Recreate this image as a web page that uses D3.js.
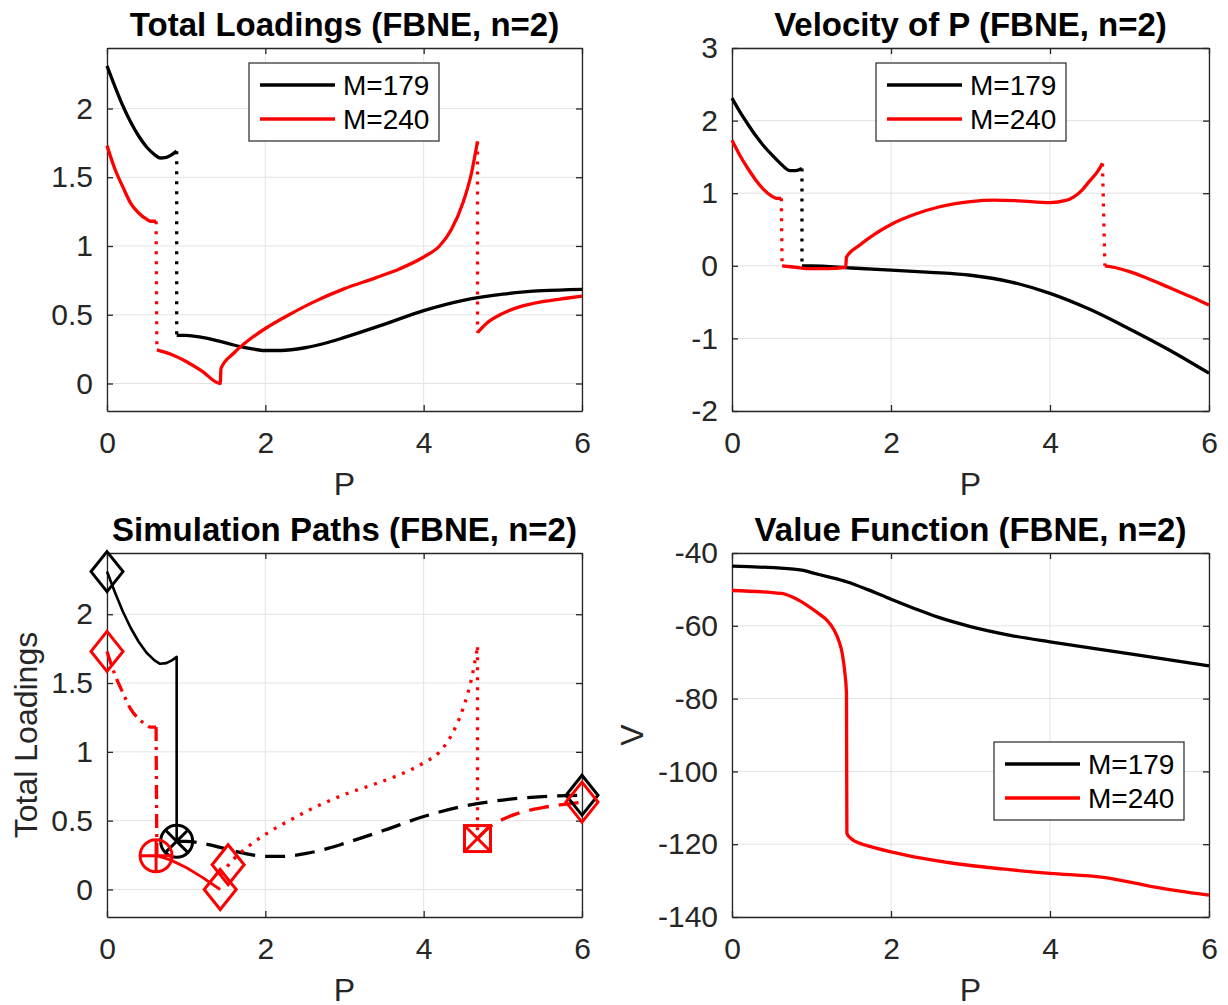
<!DOCTYPE html>
<html>
<head>
<meta charset="utf-8">
<script src="https://cdn.jsdelivr.net/npm/d3@7"></script>
<style>
  body { margin: 0; background: #fff; }
  svg text { font-family: "Liberation Sans", Arial, Helvetica, sans-serif; fill: #262626; }
  .grid line { stroke: #e3e3e3; stroke-width: 1; }
  .axis path, .axis line { stroke: #262626; stroke-width: 1.3; }
  .axis text { font-size: 30px; fill: #262626; }
</style>
</head>
<body>
<svg id="chart" width="1228" height="1005"></svg>
<script>
// ---- data ----
var xTicks = [0, 2, 4, 6];
var loadTicks = [0, 0.5, 1, 1.5, 2];
var velTicks = [-2, -1, 0, 1, 2, 3];
var valTicks = [-140, -120, -100, -80, -60, -40];
var seriesNames = ['M=179', 'M=240'];

// total loadings, M=179
var pBlackA = [0, 0.1, 0.2, 0.3, 0.4, 0.5, 0.6, 0.67, 0.75, 0.82, 0.88];
var loadBlackA = [2.31, 2.16, 2.02, 1.90, 1.80, 1.72, 1.665, 1.64, 1.645, 1.665, 1.69];
var pBlackB = [0.88, 1.0, 1.2, 1.4, 1.6, 1.8, 2.0, 2.2, 2.5, 2.8, 3.0, 3.5, 4.0, 4.5, 5.0, 5.5, 6.0];
var loadBlackB = [0.35, 0.35, 0.335, 0.31, 0.28, 0.255, 0.24, 0.24, 0.26, 0.30, 0.335, 0.43, 0.53, 0.605, 0.65, 0.675, 0.685];
// total loadings, M=240
var pRedA = [0, 0.1, 0.2, 0.3, 0.4, 0.5, 0.55, 0.62];
var loadRedA = [1.73, 1.56, 1.43, 1.31, 1.24, 1.195, 1.18, 1.18];
var pRedB = [0.63, 0.8, 1.0, 1.2, 1.43, 1.44, 1.6, 1.8, 2.0, 2.3, 2.6, 3.0, 3.4, 3.7, 4.0, 4.2, 4.35, 4.5, 4.6, 4.68];
var loadRedB = [0.245, 0.215, 0.16, 0.09, 0.0, 0.11, 0.22, 0.32, 0.40, 0.50, 0.59, 0.69, 0.77, 0.835, 0.92, 1.0, 1.12, 1.32, 1.52, 1.76];
var pRedC = [4.68, 4.8, 5.0, 5.2, 5.5, 5.8, 6.0];
var loadRedC = [0.37, 0.44, 0.51, 0.555, 0.595, 0.62, 0.635];

// velocity of P
var vpBlackA = [0, 0.1, 0.2, 0.3, 0.4, 0.5, 0.6, 0.73, 0.8, 0.88];
var velBlackA = [2.31, 2.12, 1.95, 1.79, 1.65, 1.53, 1.42, 1.31, 1.31, 1.34];
var vpBlackB = [0.88, 1.0, 1.5, 2.0, 2.5, 3.0, 3.5, 4.0, 4.5, 5.0, 5.5, 6.0];
var velBlackB = [0.0, 0.0, -0.03, -0.06, -0.09, -0.13, -0.22, -0.38, -0.60, -0.87, -1.16, -1.48];
var vpRedA = [0, 0.1, 0.2, 0.3, 0.4, 0.5, 0.56, 0.62];
var velRedA = [1.73, 1.52, 1.34, 1.18, 1.05, 0.96, 0.93, 0.93];
var vpRedB = [0.63, 0.8, 1.0, 1.2, 1.43, 1.44, 1.6, 1.8, 2.0, 2.3, 2.6, 3.0, 3.3, 3.6, 4.0, 4.2, 4.3, 4.4, 4.5, 4.6, 4.66];
var velRedB = [0.0, -0.02, -0.04, -0.04, -0.02, 0.12, 0.28, 0.44, 0.57, 0.71, 0.81, 0.885, 0.905, 0.895, 0.87, 0.90, 0.95, 1.04, 1.17, 1.30, 1.41];
var vpRedC = [4.69, 4.8, 5.0, 5.2, 5.5, 5.8, 6.0];
var velRedC = [0.0, -0.02, -0.08, -0.16, -0.30, -0.44, -0.54];

// value function
var valPBlack = [0, 0.88, 1.0, 1.2, 1.44, 1.7, 2.0, 2.3, 2.6, 3.0, 3.5, 4.0, 4.67, 5.3, 6.0];
var valBlack = [-43.6, -44.7, -45.4, -46.5, -47.9, -50.0, -52.7, -55.3, -57.7, -60.2, -62.6, -64.4, -66.6, -68.7, -71.0];
var valPRed = [0, 0.62, 0.8, 0.94, 1.1, 1.19, 1.28, 1.34, 1.39, 1.42, 1.44, 1.445, 1.5, 1.6, 1.8, 2.0, 2.4, 2.8, 3.4, 4.0, 4.67, 5.3, 6.0];
var valRed = [-50.3, -51.1, -52.5, -54.3, -56.8, -58.4, -61.0, -63.9, -68.0, -73.0, -78.5, -117, -118.5, -119.7, -121.0, -122.1, -123.9, -125.3, -126.8, -128.0, -129.1, -131.7, -134.0];

// simulation path markers
var simDiamondP = [0, 6, 0, 1.43, 1.53, 6];
var simDiamondL = [2.31, 0.685, 1.73, 0.0, 0.18, 0.635];
var simDiamondSeries = [0, 0, 1, 1, 1, 1];
var simSwitchP = [0.88, 0.62, 4.68];      // circle-x, circle-plus, square-x
var simSwitchL = [0.35, 0.245, 0.37];

var colors = ['#000000', '#ff0000'];
var LW = 3.3;

function zip(xs, ys) { return xs.map(function (v, i) { return [v, ys[i]]; }); }

var svg = d3.select('#chart');

function panel(o) {
    var w = o.right - o.left, h = o.bottom - o.top;
    var g = svg.append('g').attr('transform', 'translate(' + o.left + ',' + o.top + ')');
    var x = d3.scaleLinear().domain([0, 6]).range([0, w]);
    var y = d3.scaleLinear().domain(o.yDomain).range([h, 0]);

    var grid = g.append('g').attr('class', 'grid');
    grid.selectAll('line.gx').data(xTicks).enter().append('line').attr('class', 'gx')
        .attr('x1', x).attr('x2', x).attr('y1', 0).attr('y2', h);
    grid.selectAll('line.gy').data(o.yTicks).enter().append('line').attr('class', 'gy')
        .attr('y1', y).attr('y2', y).attr('x1', 0).attr('x2', w);

    g.append('g').attr('class', 'axis').attr('transform', 'translate(0,' + h + ')')
        .call(d3.axisBottom(x).tickValues(xTicks).tickSize(-6).tickSizeOuter(0).tickPadding(21).tickFormat(d3.format('d')));
    g.append('g').attr('class', 'axis')
        .call(d3.axisTop(x).tickValues(xTicks).tickSize(-6).tickSizeOuter(0).tickFormat(''));
    g.append('g').attr('class', 'axis')
        .call(d3.axisLeft(y).tickValues(o.yTicks).tickSize(-6).tickSizeOuter(0).tickPadding(14).tickFormat(function (d) { return String(d); }));
    g.append('g').attr('class', 'axis').attr('transform', 'translate(' + w + ',0)')
        .call(d3.axisRight(y).tickValues(o.yTicks).tickSize(-6).tickSizeOuter(0).tickFormat(''));
    g.selectAll('.axis text').attr('font-size', 30);

    g.append('text').attr('x', w / 2).attr('y', -12).attr('text-anchor', 'middle')
        .attr('font-size', 33).attr('font-weight', 'bold').style('fill', '#000').text(o.title);
    g.append('text').attr('x', w / 2).attr('y', h + 84).attr('text-anchor', 'middle')
        .attr('font-size', 32).text('P');
    if (o.ylabel) {
        g.append('text').attr('transform', 'translate(' + (o.ylabelX - o.left) + ',' + (h / 2) + ') rotate(-90)')
            .attr('text-anchor', 'middle').attr('font-size', 32).text(o.ylabel);
    }
    var line = d3.line().x(function (d) { return x(d[0]); }).y(function (d) { return y(d[1]); });
    var smooth = d3.line().curve(d3.curveMonotoneX).x(function (d) { return x(d[0]); }).y(function (d) { return y(d[1]); });
    return { g: g, x: x, y: y, w: w, h: h, line: line, smooth: smooth };
}

function path(p, pts, color, width, dash, curved) {
    p.g.append('path').datum(pts)
        .attr('d', curved === false ? p.line : p.smooth)
        .attr('fill', 'none').attr('stroke', color).attr('stroke-width', width)
        .attr('stroke-dasharray', dash || null).attr('stroke-linejoin', 'round');
}

function legend(p, bx, by) {
    var lg = p.g.append('g').attr('transform', 'translate(' + bx + ',' + by + ')');
    lg.append('rect').attr('width', 190).attr('height', 78).attr('fill', '#fff')
        .attr('stroke', '#262626').attr('stroke-width', 1.2);
    seriesNames.forEach(function (name, i) {
        var yy = 22 + i * 34;
        lg.append('line').attr('x1', 11).attr('x2', 86).attr('y1', yy).attr('y2', yy)
            .attr('stroke', colors[i]).attr('stroke-width', LW);
        lg.append('text').attr('x', 94).attr('y', yy).attr('dy', '0.36em')
            .attr('font-size', 28).style('fill', '#000').text(name);
    });
}

var DOT = '3,7', DASH = '20,10', DASHDOT = '14,6,3,6';

// ---- panel 1: total loadings ----
var p1 = panel({ left: 107, right: 582, top: 48, bottom: 411, yDomain: [-0.2, 2.44], yTicks: loadTicks,
    title: 'Total Loadings (FBNE, n=2)' });
(function () {
    var bA = zip(pBlackA, loadBlackA), bB = zip(pBlackB, loadBlackB);
    var rA = zip(pRedA, loadRedA), rB = zip(pRedB, loadRedB), rC = zip(pRedC, loadRedC);
    path(p1, [bA[bA.length - 1], bB[0]], colors[0], LW, DOT, false);
    path(p1, [rA[rA.length - 1], rB[0]], colors[1], LW, DOT, false);
    path(p1, [rB[rB.length - 1], rC[0]], colors[1], LW, DOT, false);
    path(p1, bA, colors[0], LW); path(p1, bB, colors[0], LW);
    path(p1, rA, colors[1], LW); path(p1, rB, colors[1], LW); path(p1, rC, colors[1], LW);
    legend(p1, 142, 15);
})();

// ---- panel 2: velocity of P ----
var p2 = panel({ left: 732, right: 1209, top: 48, bottom: 411, yDomain: [-2, 3], yTicks: velTicks,
    title: 'Velocity of P (FBNE, n=2)' });
(function () {
    var bA = zip(vpBlackA, velBlackA), bB = zip(vpBlackB, velBlackB);
    var rA = zip(vpRedA, velRedA), rB = zip(vpRedB, velRedB), rC = zip(vpRedC, velRedC);
    path(p2, [bA[bA.length - 1], bB[0]], colors[0], LW, DOT, false);
    path(p2, [rA[rA.length - 1], rB[0]], colors[1], LW, DOT, false);
    path(p2, [rB[rB.length - 1], rC[0]], colors[1], LW, DOT, false);
    path(p2, bA, colors[0], LW); path(p2, bB, colors[0], LW);
    path(p2, rA, colors[1], LW); path(p2, rB, colors[1], LW); path(p2, rC, colors[1], LW);
    legend(p2, 144, 15);
})();

// ---- panel 3: simulation paths ----
var p3 = panel({ left: 107, right: 582, top: 553, bottom: 917, yDomain: [-0.2, 2.445], yTicks: loadTicks,
    title: 'Simulation Paths (FBNE, n=2)', ylabel: 'Total Loadings', ylabelX: 37 });
(function () {
    var bA = zip(pBlackA, loadBlackA), bB = zip(pBlackB, loadBlackB);
    var rA = zip(pRedA, loadRedA), rB = zip(pRedB, loadRedB), rC = zip(pRedC, loadRedC);
    var cut = pRedB.indexOf(1.43);
    var rLow = rB.slice(0, cut + 1), rHigh = rB.slice(cut + 1);

    path(p3, bA.concat([bB[0]]), colors[0], 2.6, null, false);
    path(p3, bB, colors[0], LW, DASH);
    path(p3, rA, colors[1], LW, DASHDOT);
    path(p3, [rA[rA.length - 1], rB[0]], colors[1], LW, DASHDOT, false);
    path(p3, rLow, colors[1], LW - 0.5, null, false);
    path(p3, rHigh, colors[1], LW, DOT);
    path(p3, [rB[rB.length - 1], rC[0]], colors[1], LW, DOT, false);
    path(p3, rC, colors[1], LW, DASH);

    var mk = p3.g.append('g').attr('fill', 'none').attr('stroke-width', 3);
    mk.selectAll('path.dia').data(d3.range(simDiamondP.length)).enter().append('path').attr('class', 'dia')
        .attr('stroke', function (i) { return colors[simDiamondSeries[i]]; })
        .attr('d', function (i) {
            var cx = p3.x(simDiamondP[i]), cy = p3.y(simDiamondL[i]);
            return 'M' + cx + ',' + (cy - 20) + 'L' + (cx + 16) + ',' + cy + 'L' + cx + ',' + (cy + 20) + 'L' + (cx - 16) + ',' + cy + 'Z';
        });
    var r = 16, k = r * Math.SQRT1_2;
    // circle with x (M=179 switch)
    var c0 = [p3.x(simSwitchP[0]), p3.y(simSwitchL[0])];
    mk.append('circle').attr('cx', c0[0]).attr('cy', c0[1]).attr('r', r).attr('stroke', colors[0]);
    mk.append('path').attr('stroke', colors[0])
        .attr('d', 'M' + (c0[0] - k) + ',' + (c0[1] - k) + 'L' + (c0[0] + k) + ',' + (c0[1] + k) +
            'M' + (c0[0] - k) + ',' + (c0[1] + k) + 'L' + (c0[0] + k) + ',' + (c0[1] - k));
    // circle with plus (M=240 first switch)
    var c1 = [p3.x(simSwitchP[1]), p3.y(simSwitchL[1])];
    mk.append('circle').attr('cx', c1[0]).attr('cy', c1[1]).attr('r', r).attr('stroke', colors[1]);
    mk.append('path').attr('stroke', colors[1])
        .attr('d', 'M' + (c1[0] - r) + ',' + c1[1] + 'L' + (c1[0] + r) + ',' + c1[1] +
            'M' + c1[0] + ',' + (c1[1] - r) + 'L' + c1[0] + ',' + (c1[1] + r));
    // square with x (M=240 second switch)
    var c2 = [p3.x(simSwitchP[2]), p3.y(simSwitchL[2])], s = 13;
    mk.append('rect').attr('x', c2[0] - s).attr('y', c2[1] - s).attr('width', 2 * s).attr('height', 2 * s)
        .attr('stroke', colors[1]);
    mk.append('path').attr('stroke', colors[1])
        .attr('d', 'M' + (c2[0] - s) + ',' + (c2[1] - s) + 'L' + (c2[0] + s) + ',' + (c2[1] + s) +
            'M' + (c2[0] - s) + ',' + (c2[1] + s) + 'L' + (c2[0] + s) + ',' + (c2[1] - s));
})();

// ---- panel 4: value function ----
var p4 = panel({ left: 732, right: 1209, top: 553, bottom: 917, yDomain: [-140, -40], yTicks: valTicks,
    title: 'Value Function (FBNE, n=2)', ylabel: 'V', ylabelX: 643 });
(function () {
    path(p4, zip(valPBlack, valBlack), colors[0], LW);
    path(p4, zip(valPRed, valRed), colors[1], LW);
    legend(p4, 262, 189);
})();
</script>
</body>
</html>
